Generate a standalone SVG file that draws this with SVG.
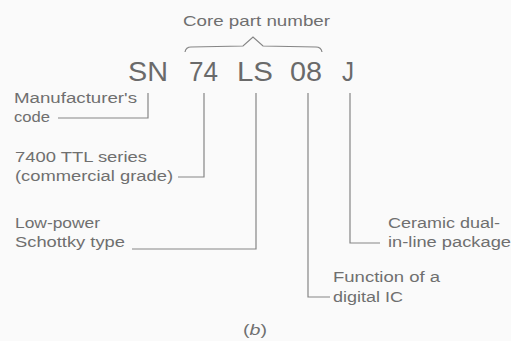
<svg xmlns="http://www.w3.org/2000/svg" width="511" height="341" viewBox="0 0 511 341">
<style>
.bg{fill:#fafafa}
.lbl{font-family:"Liberation Sans",Arial,sans-serif;font-size:14px;fill:#6f6f6f}
.big{font-family:"Liberation Sans",Arial,sans-serif;font-size:27px;fill:#6a6a6a}
.ln{fill:none;stroke:#858585;stroke-width:1.2}
</style>
<rect class="bg" x="0" y="0" width="511" height="341"/>
<g id="title">
<text class="lbl" x="183" y="26" textLength="147" lengthAdjust="spacingAndGlyphs" style="font-size:15px">Core part number</text>
<path class="ln" d="M185,52 Q186,47 191,47 L243,46 L253,37 L263,46 L316,47 Q321,47 322,52"/>
</g>
<g id="part-number">
<text class="big" x="128" y="81" textLength="40" lengthAdjust="spacingAndGlyphs">SN</text>
<text class="big" x="189" y="81" textLength="29" lengthAdjust="spacingAndGlyphs">74</text>
<text class="big" x="237" y="81" textLength="36" lengthAdjust="spacingAndGlyphs">LS</text>
<text class="big" x="290" y="81" textLength="32" lengthAdjust="spacingAndGlyphs">08</text>
<text class="big" x="342" y="81" textLength="12" lengthAdjust="spacingAndGlyphs">J</text>
</g>
<g id="manufacturer">
<text class="lbl" x="14" y="103" textLength="123" lengthAdjust="spacingAndGlyphs">Manufacturer's</text>
<text class="lbl" x="14" y="122" textLength="36" lengthAdjust="spacingAndGlyphs">code</text>
</g>
<g id="series">
<text class="lbl" x="15" y="162" textLength="132" lengthAdjust="spacingAndGlyphs">7400 TTL series</text>
<text class="lbl" x="15" y="181" textLength="158" lengthAdjust="spacingAndGlyphs">(commercial grade)</text>
</g>
<g id="lowpower">
<text class="lbl" x="15" y="228" textLength="85" lengthAdjust="spacingAndGlyphs">Low-power</text>
<text class="lbl" x="15" y="247" textLength="110" lengthAdjust="spacingAndGlyphs">Schottky type</text>
</g>
<g id="package">
<text class="lbl" x="388" y="228" textLength="112" lengthAdjust="spacingAndGlyphs">Ceramic dual-</text>
<text class="lbl" x="388" y="247" textLength="123" lengthAdjust="spacingAndGlyphs">in-line package</text>
</g>
<g id="function">
<text class="lbl" x="333" y="282" textLength="107" lengthAdjust="spacingAndGlyphs">Function of a</text>
<text class="lbl" x="333" y="302" textLength="70" lengthAdjust="spacingAndGlyphs">digital IC</text>
</g>
<g id="caption">
<text class="lbl" x="243" y="335" textLength="24" lengthAdjust="spacingAndGlyphs">(<tspan font-style="italic">b</tspan>)</text>
</g>
<g id="connectors">
<path class="ln" d="M148,93 V118 H58"/>
<path class="ln" d="M204,93 V177 H178"/>
<path class="ln" d="M256,93 V249 H132"/>
<path class="ln" d="M308,93 V297 H330"/>
<path class="ln" d="M350,93 V243 H380"/>
</g>
</svg>
